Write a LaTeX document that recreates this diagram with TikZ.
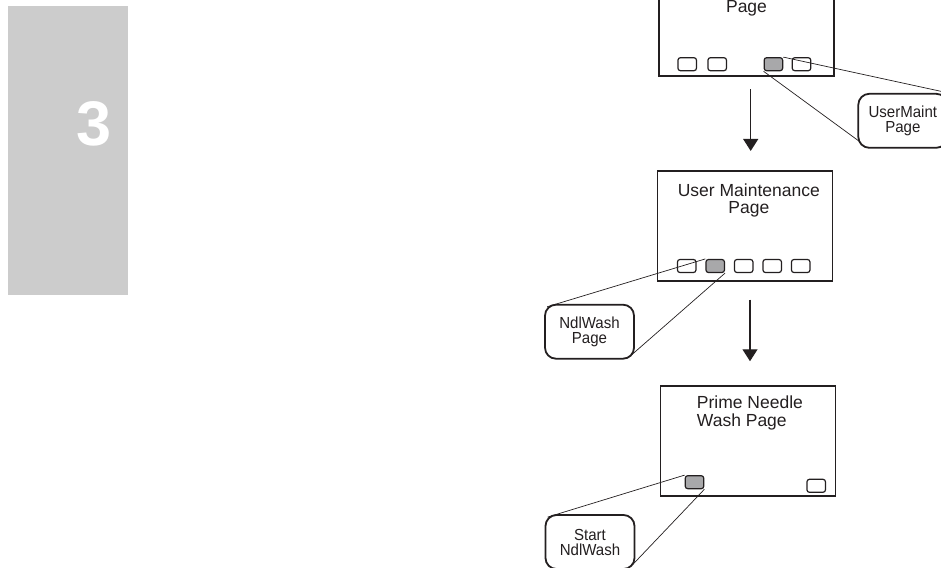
\documentclass[tikz,border=0pt]{standalone}
\usepackage{fontspec}
\setmainfont{Liberation Sans}
\newfontfamily\calloutfont[FakeStretch=0.94]{Liberation Sans}
\usetikzlibrary{positioning,arrows.meta}
\definecolor{tabgray}{RGB}{204,204,204}
\definecolor{keygray}{RGB}{168,168,170}
\definecolor{ink}{RGB}{35,31,32}
\tikzset{screen/.style={draw=ink,line width=1.9pt,minimum width=175pt,minimum height=110pt,inner sep=0pt}}
\tikzset{softkey/.style={draw=ink,line width=1.2pt,rounded corners=2.5pt,minimum width=18.5pt,minimum height=13pt,inner sep=0pt}}
\tikzset{pressed/.style={softkey,fill=keygray}}
\tikzset{callout/.style={draw=ink,line width=1.8pt,rounded corners=11pt,minimum width=89pt,minimum height=54pt,inner sep=0pt,align=center,text=ink,font=\calloutfont\fontsize{16}{15}\selectfont}}
\tikzset{pointer/.style={draw=ink,line width=0.7pt}}
\tikzset{transition/.style={draw=ink,line width=1.3pt,-{Triangle[width=15pt,length=12pt]}}}
\tikzset{title/.style={inner sep=0pt,text=ink,font=\fontsize{17.5}{16.7}\selectfont}}

\begin{document}
\begin{tikzpicture}[x=1pt,y=-1pt]
  \useasboundingbox (0,0) rectangle (941,567);
  \clip (0,0) rectangle (941,567);
  % chapter tab
  \node[fill=tabgray,minimum width=120pt,minimum height=289pt,inner sep=0pt] (tab) at (68.3,150.5) {};
  \node[text=white,inner sep=0pt,font=\fontsize{63}{63}\bfseries\selectfont] (chapno) at (94.5,124.2) {3};
  % screens
  \node[screen] (mainpage) at (746.5,21) {};
  \node[screen] (umpage) at (745,226) {};
  \node[screen] (pnwpage) at (748,441.2) {};
  \node[title,anchor=base] (maintitle) at (746.5,13) {Page};
  \node[title,anchor=north,align=center] (umtitle) at (748.8,184) {User Maintenance\\Page};
  \node[title,anchor=north west,align=left,font=\fontsize{17.5}{18.3}\selectfont] (pnwtitle) at (696.7,395.6) {Prime Needle\\Wash Page};
  % soft keys
  \node[softkey] (mk1) at (687.2,64.2) {};
  \node[softkey] (mk2) at (717.2,64.2) {};
  \node[pressed] (mk3) at (773.4,64.2) {};
  \node[softkey] (mk4) at (801.5,64.2) {};
  \begin{scope}[node distance=28.5pt,on grid]
    \node[softkey] (uk1) at (686.7,266) {};
    \node[pressed] (uk2) [right=of uk1] {};
    \node[softkey] (uk3) [right=of uk2] {};
    \node[softkey] (uk4) [right=of uk3] {};
    \node[softkey] (uk5) [right=of uk4] {};
  \end{scope}
  \node[pressed] (pk1) at (694.5,482.2) {};
  \node[softkey] (pk2) at (816.2,485.8) {};
  % callouts
  \node[callout] (umcall) at (902.8,120.8) {UserMaint\\Page};
  \node[callout] (nwcall) at (589.5,331.7) {NdlWash\\Page};
  \node[callout] (startcall) at (590,542) {Start\\NdlWash};
  \path[pointer]
    (mk3.north east) -- (umcall.north east)
    (mk3.south west) -- ([shift={(1,-8)}]umcall.south west)
    (uk2.north west) -- ([shift={(3,3)}]nwcall.north west)
    (uk2.south east) -- ([shift={(-3,-5)}]nwcall.south east)
    (pk1.north west) -- ([shift={(3,3)}]startcall.north west)
    (pk1.south east) -- ([shift={(-3,-5)}]startcall.south east);
  % page flow
  \draw[transition] ([xshift=4.2pt,yshift=-12.3pt]mainpage.south) -- ([xshift=4.2pt,yshift=-74pt]mainpage.south);
  \draw[transition] ([xshift=5pt,yshift=-17.6pt]umpage.south) -- ([xshift=5pt,yshift=-79.3pt]umpage.south);
\end{tikzpicture}
\end{document}
